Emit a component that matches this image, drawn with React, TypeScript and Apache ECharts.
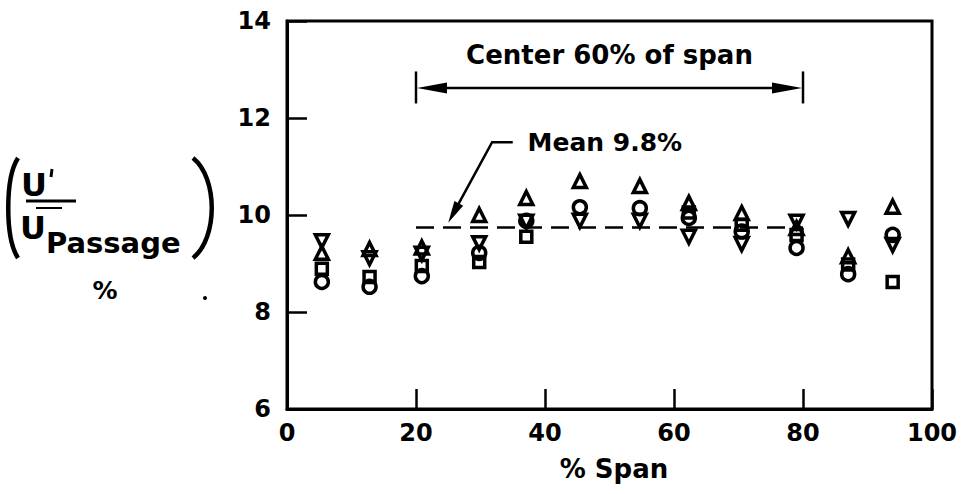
import React, { useEffect, useRef } from "react";
import * as echarts from "echarts";

// ---- data ----
const spanPositions = [5.4, 12.8, 20.9, 29.8, 37.1, 45.4, 54.7, 62.3, 70.5, 79.0, 87.0, 93.9];
const triangleUpValues = [9.22, 9.3, 9.33, 10.0, 10.35, 10.7, 10.6, 10.25, 10.04, 9.73, 9.15, 10.17];
const triangleDownValues = [9.46, 9.11, 9.2, 9.42, 9.86, 9.88, 9.88, 9.55, 9.4, 9.86, 9.92, 9.38];
const circleValues = [8.62, 8.52, 8.74, 9.22, 9.88, 10.16, 10.14, 9.94, 9.66, 9.32, 8.78, 9.59];
const squareValues: (number | null)[] = [8.89, 8.72, 8.95, 9.03, 9.55, null, null, 10.05, 9.8, 9.59, 8.98, 8.62];

const xMin = 0;
const xMax = 100;
const xInterval = 20;
const yMin = 6;
const yMax = 14;
const yInterval = 2;

const meanLineValue = 9.75;
const meanLabel = "Mean 9.8%";
const centerSpan = [20, 80];
const centerArrowY = 12.62;
const centerBarTop = 12.96;
const centerBarBottom = 12.3;
const centerLabel = "Center 60% of span";
const centerLabelY = 13.3;
const meanLabelPos = [37.3, 11.5];
const meanLeaderStart = [35.0, 11.5];
const meanLeaderKnee = [31.8, 11.5];
const meanLeaderTip = [25.0, 9.84];

const xAxisTitle = "% Span";

const FONT = '"DejaVu Sans", Verdana, sans-serif';

function pts(values: (number | null)[]) {
  const out: number[][] = [];
  values.forEach((v, i) => {
    if (v !== null && v !== undefined) out.push([spanPositions[i], v]);
  });
  return out;
}

const markerStyle = {
  color: "rgba(255,255,255,0)",
  borderColor: "#000",
  borderWidth: 3.5,
  opacity: 1,
};

function arrowHead(tip: number[], from: number[], len: number, halfW: number) {
  const dx = tip[0] - from[0];
  const dy = tip[1] - from[1];
  const d = Math.sqrt(dx * dx + dy * dy) || 1;
  const ux = dx / d;
  const uy = dy / d;
  const bx = tip[0] - ux * len;
  const by = tip[1] - uy * len;
  const nx = -uy;
  const ny = ux;
  return [
    [tip[0], tip[1]],
    [bx + nx * halfW, by + ny * halfW],
    [bx - nx * halfW, by - ny * halfW],
  ];
}

export default function App() {
  const ref = useRef<HTMLDivElement>(null);

  useEffect(() => {
    if (!ref.current) return;
    const chart = echarts.init(ref.current, undefined, { renderer: "svg" });

    const axisLabelStyle = {
      color: "#000",
      fontFamily: FONT,
      fontWeight: "bold" as const,
      fontSize: 24,
    };

    chart.setOption({
      animation: false,
      backgroundColor: "#fff",
      grid: {
        left: 287,
        right: 31,
        top: 21,
        bottom: 85,
        show: true,
        borderColor: "#000",
        borderWidth: 3,
        backgroundColor: "rgba(0,0,0,0)",
      },
      xAxis: {
        type: "value",
        min: xMin,
        max: xMax,
        interval: xInterval,
        axisLine: { show: true, lineStyle: { color: "#000", width: 3 } },
        axisTick: { show: true, inside: true, length: 20, lineStyle: { color: "#000", width: 2.5 } },
        axisLabel: { ...axisLabelStyle, margin: 12 },
        splitLine: { show: false },
      },
      yAxis: {
        type: "value",
        min: yMin,
        max: yMax,
        interval: yInterval,
        axisLine: { show: true, lineStyle: { color: "#000", width: 3 } },
        axisTick: { show: true, inside: true, length: 20, lineStyle: { color: "#000", width: 2.5 } },
        axisLabel: { ...axisLabelStyle, margin: 16 },
        splitLine: { show: false },
      },
      series: [
        {
          type: "scatter",
          name: "circle",
          symbol: "circle",
          symbolSize: 13,
          data: pts(circleValues),
          itemStyle: markerStyle,
          markLine: {
            silent: true,
            symbol: "none",
            label: { show: false },
            lineStyle: { color: "#000", width: 2.5, type: [18, 9], opacity: 1 },
            data: [
              [
                { coord: [centerSpan[0], meanLineValue] },
                { coord: [centerSpan[1], meanLineValue] },
              ],
            ],
          },
        },
        {
          type: "scatter",
          name: "square",
          symbol: "rect",
          symbolSize: 11,
          data: pts(squareValues),
          itemStyle: markerStyle,
        },
        {
          type: "scatter",
          name: "triangleDown",
          symbol: "triangle",
          symbolRotate: 180,
          symbolSize: 13,
          data: pts(triangleDownValues),
          itemStyle: markerStyle,
        },
        {
          type: "scatter",
          name: "triangleUp",
          symbol: "triangle",
          symbolSize: 13,
          data: pts(triangleUpValues),
          itemStyle: markerStyle,
        },
      ],
    });

    const P = (v: number[]) => chart.convertToPixel({ gridIndex: 0 }, v) as number[];

    const cl = P([centerSpan[0], centerArrowY]);
    const cr = P([centerSpan[1], centerArrowY]);
    const blt = P([centerSpan[0], centerBarTop]);
    const blb = P([centerSpan[0], centerBarBottom]);
    const brt = P([centerSpan[1], centerBarTop]);
    const brb = P([centerSpan[1], centerBarBottom]);
    const ctext = P([(centerSpan[0] + centerSpan[1]) / 2, centerLabelY]);
    const mText = P(meanLabelPos);
    const mStart = P(meanLeaderStart);
    const mKnee = P(meanLeaderKnee);
    const mTip = P(meanLeaderTip);

    const textStyle = (text: string, size: number, align: string) => ({
      text,
      fill: "#000",
      font: `bold ${size}px ${FONT}`,
      align,
      textAlign: align,
      verticalAlign: "middle",
      textVerticalAlign: "middle",
    });

    const lineEl = (x1: number, y1: number, x2: number, y2: number, w: number) => ({
      type: "line",
      shape: { x1, y1, x2, y2 },
      style: { stroke: "#000", lineWidth: w },
      silent: true,
    });

    chart.setOption({
      graphic: [
        // center 60% arrow
        lineEl(cl[0] + 20, cl[1], cr[0] - 20, cr[1], 2.5),
        lineEl(blt[0], blt[1], blb[0], blb[1], 2.5),
        lineEl(brt[0], brt[1], brb[0], brb[1], 2.5),
        {
          type: "polygon",
          shape: { points: arrowHead([cl[0] + 1, cl[1]], cr, 30, 5.5) },
          style: { fill: "#000" },
          silent: true,
        },
        {
          type: "polygon",
          shape: { points: arrowHead([cr[0] - 1, cr[1]], cl, 30, 5.5) },
          style: { fill: "#000" },
          silent: true,
        },
        {
          type: "text",
          x: ctext[0],
          y: ctext[1],
          style: textStyle(centerLabel, 26, "center"),
          silent: true,
        },
        // mean leader
        {
          type: "polyline",
          shape: { points: [mStart, mKnee, arrowHead(mTip, mKnee, 18, 0)[1]] },
          style: { stroke: "#000", lineWidth: 2.5, fill: null },
          silent: true,
        },
        {
          type: "polygon",
          shape: { points: arrowHead(mTip, mKnee, 22, 5) },
          style: { fill: "#000" },
          silent: true,
        },
        {
          type: "text",
          x: mText[0],
          y: mText[1],
          style: textStyle(meanLabel, 25, "left"),
          silent: true,
        },
        // x axis title
        {
          type: "text",
          x: 614,
          y: 469,
          style: textStyle(xAxisTitle, 26, "center"),
          silent: true,
        },
        // y axis title: ( U' / U_Passage ) %
        {
          type: "bezierCurve",
          shape: { x1: 18, y1: 158, cpx1: 5, cpy1: 178, cpx2: 5, cpy2: 238, x2: 18, y2: 258 },
          style: { stroke: "#000", lineWidth: 4.5, fill: null },
          silent: true,
        },
        {
          type: "bezierCurve",
          shape: { x1: 193, y1: 158, cpx1: 218, cpy1: 178, cpx2: 218, cpy2: 238, x2: 193, y2: 258 },
          style: { stroke: "#000", lineWidth: 4.5, fill: null },
          silent: true,
        },
        {
          type: "text",
          x: 34,
          y: 185,
          style: textStyle("U", 32, "center"),
          silent: true,
        },
        lineEl(52, 169, 51, 177, 3),
        lineEl(26, 201, 76, 201, 3),
        lineEl(36, 208, 62, 208, 2),
        {
          type: "text",
          x: 33,
          y: 228,
          style: textStyle("U", 32, "center"),
          silent: true,
        },
        {
          type: "text",
          x: 46,
          y: 243,
          style: textStyle("Passage", 29, "left"),
          silent: true,
        },
        {
          type: "text",
          x: 105,
          y: 290,
          style: textStyle("%", 25, "center"),
          silent: true,
        },
        {
          type: "circle",
          shape: { cx: 205, cy: 298, r: 2 },
          style: { fill: "#000" },
          silent: true,
        },
      ],
    });

    return () => chart.dispose();
  }, []);

  return (
    <div
      ref={ref}
      style={{ position: "fixed", left: 0, top: 0, width: 963, height: 494, background: "#fff" }}
    />
  );
}
